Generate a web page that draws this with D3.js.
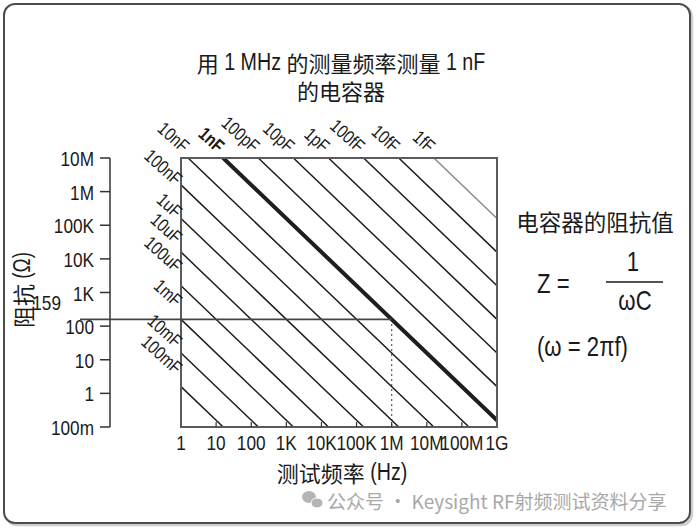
<!DOCTYPE html>
<html><head><meta charset="utf-8">
<script src="https://cdn.jsdelivr.net/npm/d3@7/dist/d3.min.js"></script>
<style>
html,body{margin:0;padding:0;background:#fff;}
svg{display:block;}
</style></head>
<body>
<svg id="chart" width="696" height="529"></svg>
<script>
// ---- data ----
const capLabels = ["1fF","10fF","100fF","1pF","10pF","100pF","1nF","10nF","100nF","1uF","10uF","100uF","1mF","10mF","100mF"];
const capValues = [1e-15,1e-14,1e-13,1e-12,1e-11,1e-10,1e-9,1e-8,1e-7,1e-6,1e-5,1e-4,1e-3,1e-2,1e-1];
const freqTicks = [1,10,100,1e3,1e4,1e5,1e6,1e7,1e8,1e9];
const freqLabels = ["1","10","100","1K","10K","100K","1M","10M","100M","1G"];
const impTicks = [1e7,1e6,1e5,1e4,1e3,100,10,1,0.1];
const impLabels = ["10M","1M","100K","10K","1K","100","10","1","100m"];
const measureFreq = 1e6;
const measureCap = 1e-9;
const measureZLabel = "159";
const titleLines = ["用 1 MHz 的测量频率测量 1 nF","的电容器"];
const xTitle = "测试频率 (Hz)";
const yTitle = "阻抗 (Ω)";
const sideTitle = "电容器的阻抗值";
const watermark = "公众号 · Keysight RF射频测试资料分享";

// ---- layout ----
const LAT = '"Liberation Sans",Arial,sans-serif';
const CJK = '"Noto Sans CJK SC",sans-serif';
const SQ = 0.82; // horizontal squeeze for condensed latin
const INK = "#1a1a1a";
const box = {l:181, r:497, t:158, b:427};
const leftShift = [-4,-5,-13,-18,-17,-10,-17]; // label nudges for lines entering at left edge

const svg = d3.select("#chart");
const x = d3.scaleLog().domain([1,1e9]).range([box.l, box.r]);
const y = d3.scaleLog().domain([0.1,1e7]).range([box.b, box.t]);
const zOf = (f,C) => 1/(2*Math.PI*f*C);

// mixed text: CJK at normal width, latin condensed
function ctext(parent, str, px, py, o = {}) {
  const size = o.size || 19, anchor = o.anchor || "start", rot = o.rotate || 0;
  const latSize = o.latSize || size;
  const outer = parent.append("g").attr("transform", `translate(${px},${py}) rotate(${rot})`);
  const inner = outer.append("g");
  const latRe = /^[\u0000-\u024F\u0370-\u03FF\u2000-\u206F]+$/;
  const runs = str.match(/[\u0000-\u024F\u0370-\u03FF\u2000-\u206F]+|[^\u0000-\u024F\u0370-\u03FF\u2000-\u206F]+/g) || [];
  let cur = 0;
  runs.forEach(r => {
    const lat = latRe.test(r);
    const t = inner.append("text")
      .attr("transform", `translate(${cur},0) scale(${lat ? SQ : 1},1)`)
      .attr("dominant-baseline", "central")
      .style("font-family", lat ? LAT : CJK)
      .style("font-size", (lat ? latSize : size) + "px")
      .style("font-weight", o.weight || "normal")
      .style("white-space", "pre")
      .attr("fill", o.fill || INK)
      .text(r);
    cur += t.node().getComputedTextLength() * (lat ? SQ : 1);
  });
  const shift = anchor === "end" ? -cur : anchor === "middle" ? -cur / 2 : 0;
  inner.attr("transform", `translate(${shift},0)`);
  return outer;
}

// frame
svg.append("rect").attr("x",6).attr("y",6).attr("width",686).attr("height",519).attr("rx",11)
  .attr("fill","none").attr("stroke","#cfcfcf").attr("stroke-width",2.5);
svg.append("rect").attr("x",4).attr("y",4).attr("width",686).attr("height",519).attr("rx",11)
  .attr("fill","#fff").attr("stroke","#4d4d4d").attr("stroke-width",2);

// title
titleLines.forEach((t,i)=> ctext(svg, t, 341, 62 + i*28, {size:22, latSize:24, anchor:"middle"}));

// clip
svg.append("clipPath").attr("id","plotclip").append("rect")
  .attr("x",box.l).attr("y",box.t).attr("width",box.r-box.l).attr("height",box.b-box.t);

// capacitance lines
const segs = capValues.map((C,i)=>{
  const k = 1/(2*Math.PI*C);
  const f0 = Math.max(1, k/1e7), f1 = Math.min(1e9, k/0.1);
  return {C, label:capLabels[i], p0:[f0,k/f0], p1:[f1,k/f1], top: f0>1};
});
const g = svg.append("g").attr("clip-path","url(#plotclip)");
g.selectAll("line.cap").data(segs).enter().append("line")
  .attr("x1",d=>x(d.p0[0])).attr("y1",d=>y(d.p0[1]))
  .attr("x2",d=>x(d.p1[0])).attr("y2",d=>y(d.p1[1]))
  .attr("stroke",d=>d.C===1e-15?"#8a8a8a":"#1e1e1e")
  .attr("stroke-width",d=>d.C===measureCap?4:1.5)
  .attr("stroke-linecap","round");

// box
svg.append("rect").attr("x",box.l).attr("y",box.t).attr("width",box.r-box.l).attr("height",box.b-box.t)
  .attr("fill","none").attr("stroke","#5a5a5a").attr("stroke-width",2);

// bottom inner ticks
svg.selectAll("line.xt").data(freqTicks.slice(1,-1)).enter().append("line")
  .attr("x1",d=>x(d)).attr("x2",d=>x(d)).attr("y1",box.b).attr("y2",box.b-5)
  .attr("stroke","#333").attr("stroke-width",1.2);

// x tick labels
freqTicks.forEach((d,i)=> ctext(svg, freqLabels[i], x(d), 443, {size:21, anchor:"middle"}));

// x title
ctext(svg, xTitle, 342, 472, {size:22, latSize:24, anchor:"middle"});

// y axis (separate, left)
const yAxisX = 110;
svg.append("line").attr("x1",yAxisX).attr("x2",yAxisX).attr("y1",y(1e7)).attr("y2",y(0.1))
  .attr("stroke","#333").attr("stroke-width",1.5);
svg.selectAll("line.yt").data(impTicks).enter().append("line")
  .attr("x1",yAxisX-10).attr("x2",yAxisX).attr("y1",d=>y(d)).attr("y2",d=>y(d))
  .attr("stroke","#333").attr("stroke-width",1.5);
impTicks.forEach((d,i)=> ctext(svg, impLabels[i], 94, y(d)+1, {size:21, anchor:"end"}));

// y title
ctext(svg, yTitle, 22, 290, {size:22, latSize:23, anchor:"middle", rotate:-90});

// measurement lines
const zM = zOf(measureFreq, measureCap);
svg.append("line").attr("x1",80).attr("x2",x(measureFreq)).attr("y1",y(zM)).attr("y2",y(zM))
  .attr("stroke","#444").attr("stroke-width",1.8);
svg.append("line").attr("x1",x(measureFreq)).attr("x2",x(measureFreq)).attr("y1",y(zM)).attr("y2",box.b)
  .attr("stroke","#333").attr("stroke-width",1.3).attr("stroke-dasharray","1.5,3.5");
ctext(svg, measureZLabel, 61, y(zM)-16, {size:21, anchor:"end"});

// capacitance labels
const leftOrder = segs.filter(s=>!s.top).sort((a,b)=>a.C-b.C);
segs.forEach(d=>{
  let px, py;
  if (d.top) { px = x(d.p0[0]) - 2; py = box.t - 9; }
  else { const idx = leftOrder.indexOf(d); px = box.l - 2; py = y(d.p0[1]) + leftShift[idx] + 1; }
  ctext(svg, d.label, px, py, {size:18.5, anchor:"end", rotate:42, weight: d.C===measureCap?"bold":"normal"});
});

// side formula
ctext(svg, sideTitle, 595, 221, {size:22.5, anchor:"middle"});
ctext(svg, "Z =", 537, 284, {size:27});
ctext(svg, "1", 633, 262, {size:27, anchor:"middle"});
svg.append("line").attr("x1",606).attr("x2",663).attr("y1",282).attr("y2",282)
  .attr("stroke",INK).attr("stroke-width",1.5);
ctext(svg, "ωC", 635, 301, {size:27, anchor:"middle"});
ctext(svg, "(ω = 2πf)", 537, 347, {size:27});

// watermark
const wm = svg.append("g").attr("fill","#b5b5b5");
wm.append("ellipse").attr("cx",309).attr("cy",497).attr("rx",7).attr("ry",6);
wm.append("ellipse").attr("cx",317).attr("cy",503).attr("rx",6).attr("ry",5).attr("stroke","#fff").attr("stroke-width",1);
svg.append("text").attr("x",327).attr("y",500).attr("dominant-baseline","central")
  .style("font-family",CJK).style("font-size","19px").attr("fill","#a8a8a8").text(watermark);
</script>
</body></html>
